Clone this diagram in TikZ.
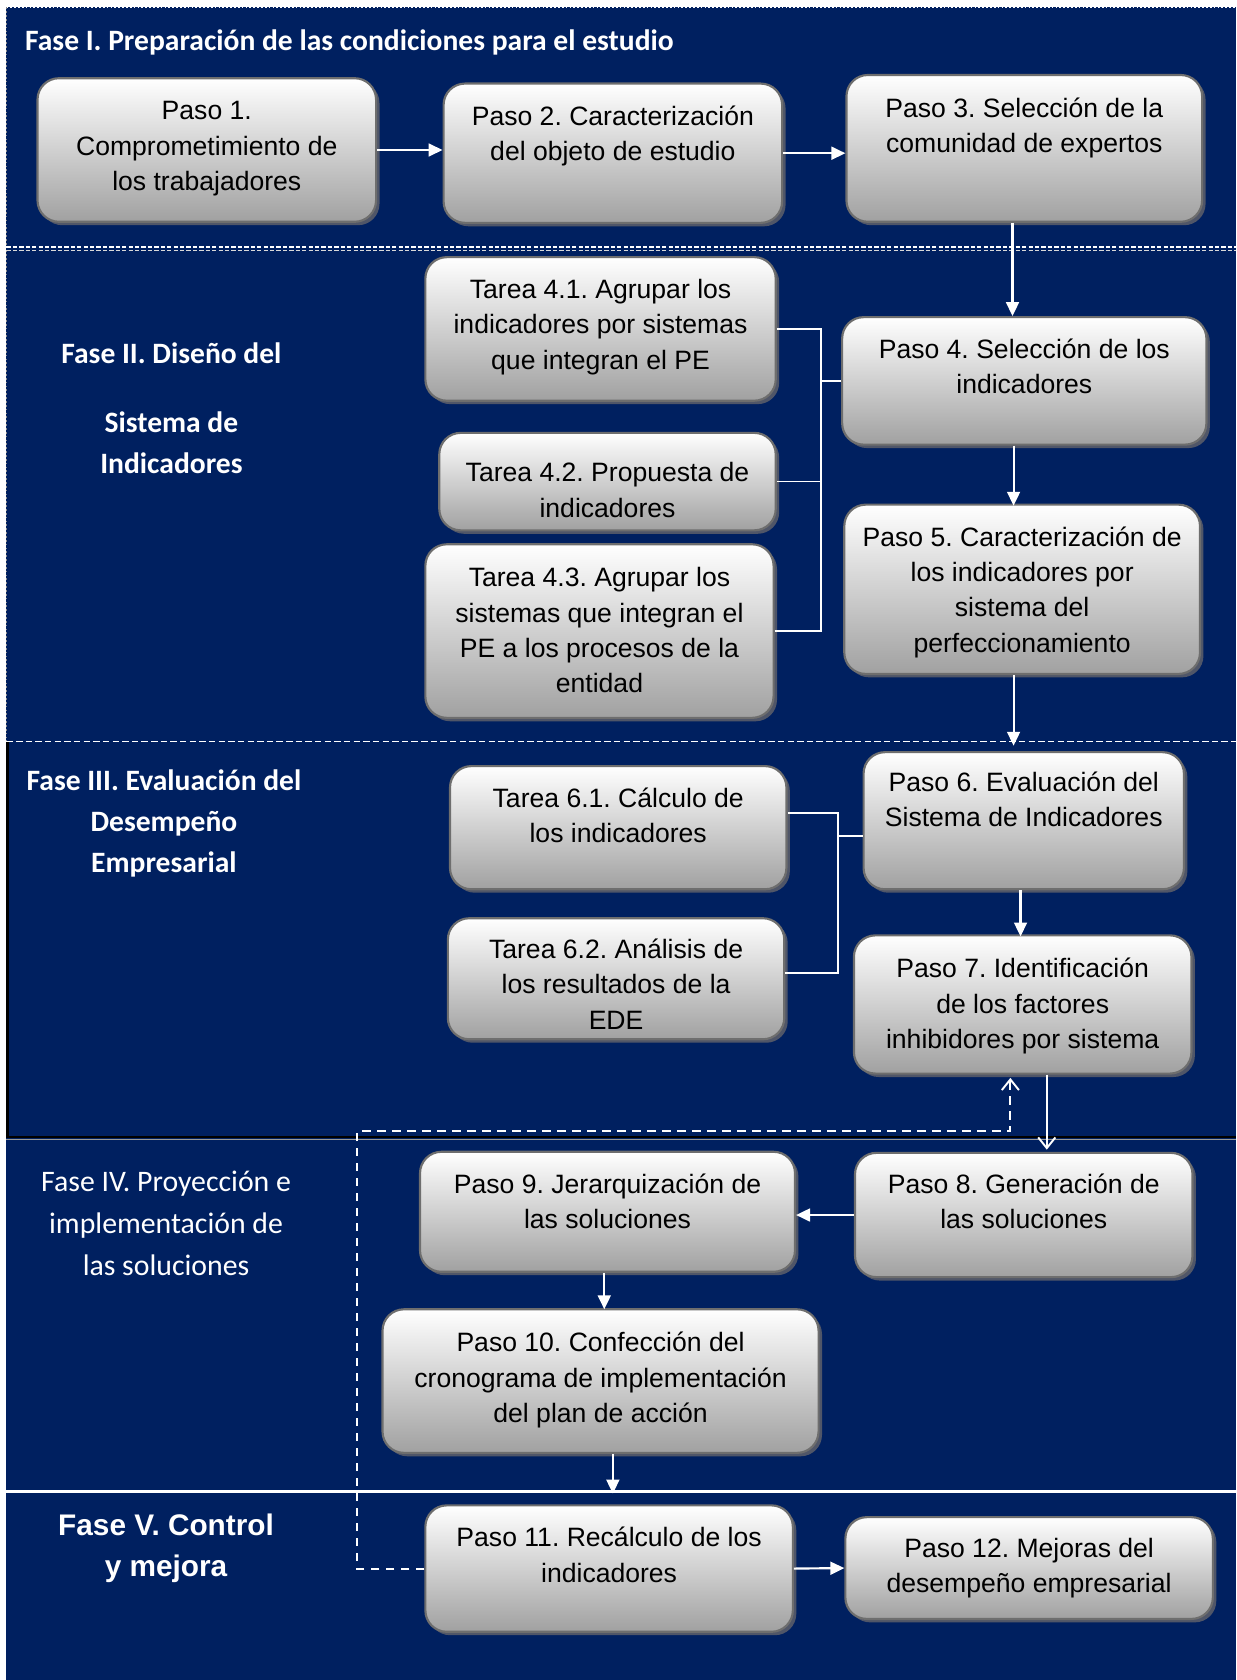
\documentclass[tikz,border=0pt]{standalone}
\usepackage{fontspec}
\setmainfont{Liberation Sans}
\newfontfamily\carlito{Carlito}
\usetikzlibrary{arrows.meta,shadows,calc}
\definecolor{navy}{RGB}{0,32,96}
\definecolor{boxline}{RGB}{110,110,110}
\definecolor{shadowc}{RGB}{80,86,104}
\newdimen\pxu \pxu=0.5pt
\frenchspacing
\tikzset{
 stepbox/.style={draw=boxline, line width=1pt, rounded corners=10pt, top color=white, bottom color=black!37,
   inner sep=0pt, drop shadow={shadow xshift=1.6pt, shadow yshift=-1.6pt, fill=shadowc, opacity=1},
   font=\fontsize{12.4}{16.5}\selectfont},
 arr/.style={draw=white, line width=1pt, -{Triangle[length=6.5pt,width=6pt]}},
 openarr/.style={draw=white, line width=0.9pt, -{Straight Barb[length=5pt,width=8pt]}},
 brk/.style={draw=white, line width=0.8pt},
 phase/.style={text=white, align=center, inner sep=0pt},
}
\newcommand\stepat[7]{%
 \pgfmathsetmacro\bw{#4-#2}\pgfmathsetmacro\bh{#5-#3}\pgfmathsetmacro\rh{#6+8.7}%
 \node[stepbox, minimum width=\bw\pxu, minimum height=\bh\pxu] (#1) at ({(#2+#4)/2},{(#3+#5)/2})
   {\parbox[c][\bh\pxu][t]{\bw\pxu}{\centering\rule{0pt}{\rh\pxu}#7\par}};}
\begin{document}
\begin{tikzpicture}[x=0.5pt,y=-0.5pt]
\useasboundingbox (0,0) rectangle (1154,1568);
\fill[navy] (6,7) rectangle (1154,1568);
% borders and phase separators
\draw[white, line width=0.8pt, densely dotted] (6,7) -- (1154,7);
\draw[black!45, line width=0.8pt, densely dotted] (6,7) -- (6,692);
\draw[black, line width=1pt] (7,692) -- (7,1062);
\draw[white, line width=0.6pt, dash pattern=on 2pt off 1pt] (6,230.5) -- (1154,230.5);
\draw[white!70!gray, line width=0.6pt, dash pattern=on 2pt off 1pt] (6,233.5) -- (1154,233.5);
\draw[white, line width=0.7pt, dash pattern=on 3pt off 1.5pt] (6,692) -- (1154,692);
\draw[black, line width=1pt] (6,1061) -- (1154,1061);
\draw[gray!80, line width=0.8pt] (6,1063.5) -- (1154,1063.5);
\draw[white, line width=1pt] (6,1392) -- (1154,1392);
% phase titles
\node[phase, anchor=west, font=\carlito\bfseries\fontsize{13.8}{16}\selectfont] (f1) at (23,40)
  {Fase I. Preparación de las condiciones para el estudio};
\node[phase, font=\carlito\bfseries\fontsize{13.8}{19}\selectfont] (f2) at (160,381)
  {Fase II. Diseño del\\[13pt]Sistema de\\Indicadores};
\node[phase, font=\carlito\bfseries\fontsize{13.8}{19.25}\selectfont] (f3) at (153,768.5)
  {Fase III. Evaluación del\\Desempeño\\Empresarial};
\node[phase, font=\carlito\fontsize{13.9}{19.5}\selectfont] (f4) at (155,1142)
  {Fase IV. Proyección e\\implementación de\\las soluciones};
\node[phase, font=\bfseries\fontsize{13.9}{19}\selectfont] (f5) at (155,1445)
  {Fase V. Control\\y mejora};
% boxes
\stepat{p1}{35}{73}{351}{207}{30}{Paso 1.\\Comprometimiento de\\los trabajadores}
\stepat{p2}{414}{78}{730}{208}{30}{Paso 2. Caracterización\\del objeto de estudio}
\stepat{p3}{790}{70}{1122}{207}{31}{Paso 3. Selección de la\\comunidad de expertos}
\stepat{t41}{397}{240}{724}{374}{30}{Tarea 4.1. Agrupar los\\indicadores por sistemas\\que integran el PE}
\stepat{t42}{410}{404}{724}{495}{37}{Tarea 4.2. Propuesta de\\indicadores}
\stepat{t43}{397}{508}{722}{670}{31}{Tarea 4.3. Agrupar los\\sistemas que integran el\\PE a los procesos de la\\entidad}
\stepat{p4}{786}{296}{1126}{415}{30}{Paso 4. Selección de los\\indicadores}
\stepat{p5}{788}{471}{1120}{629}{30}{Paso 5. Caracterización de\\los indicadores por\\sistema del\\perfeccionamiento}
\stepat{t61}{420}{715}{734}{830}{30}{Tarea 6.1. Cálculo de\\los indicadores}
\stepat{t62}{418}{857}{732}{970}{29}{Tarea 6.2. Análisis de\\los resultados de la\\EDE}
\stepat{p6}{806}{702}{1105}{830}{28}{Paso 6. Evaluación del\\Sistema de Indicadores}
\stepat{p7}{797}{873}{1112}{1002}{31}{Paso 7. Identificación\\de los factores\\inhibidores por sistema}
\stepat{p9}{392}{1075}{742}{1187}{30}{Paso 9. Jerarquización de\\las soluciones}
\stepat{p8}{798}{1076}{1113}{1192}{29}{Paso 8. Generación de\\las soluciones}
\stepat{p10}{357}{1222}{764}{1356}{31}{Paso 10. Confección del\\cronograma de implementación\\del plan de acción}
\stepat{p11}{397}{1405}{740}{1523}{30}{Paso 11. Recálculo de los\\indicadores}
\stepat{p12}{789}{1416}{1132}{1511}{29}{Paso 12. Mejoras del\\desempeño empresarial}
% connectors
\draw[arr] (p1.east) -- (p1.east -| p2.west);
\draw[arr] (p2.east) -- (p2.east -| p3.west);
\draw[arr] ([xshift=-5.5pt]p3.south) -- ([xshift=-5.5pt]p4.north);
\coordinate (b4) at (766,355.5);
\draw[brk] (t41.east) -| (b4);
\draw[brk] (t43.east) -| (b4);
\draw[brk] (t42.east) -- (t42.east -| b4);
\draw[brk] (b4) -- (p4.west);
\draw[arr] ([xshift=-5pt]p4.south) -- ++(0,56);
\draw[arr] ([xshift=-4pt]p5.south) -- ++(0,66);
\coordinate (b6) at (782,780);
\draw[brk] ([yshift=6.75pt]t61.east) -| (b6);
\draw[brk] ([yshift=2.75pt]t62.east) -| (b6);
\draw[brk] (b6) -- (b6 -| p6.west);
\draw[arr] ([xshift=-1.5pt]p6.south) -- ++(0,43);
\draw[openarr] ([xshift=11.25pt]p7.south) -- ++(0,70);
\coordinate (d1) at (333,1056);
\coordinate (d2) at (943,1056);
\draw[openarr, dash pattern=on 4pt off 3pt] (p11.west) -| (d1) -- (d2) -- ++(0,-50);
\draw[arr] (p8.west) -- (p8.west -| p9.east);
\draw[arr] ([xshift=-1.5pt]p9.south) -- ++(0,34);
\draw[arr] ([xshift=5.75pt]p10.south) -- ++(0,37);
\draw[arr] (p11.east) -- (p12.west);
\end{tikzpicture}
\end{document}
